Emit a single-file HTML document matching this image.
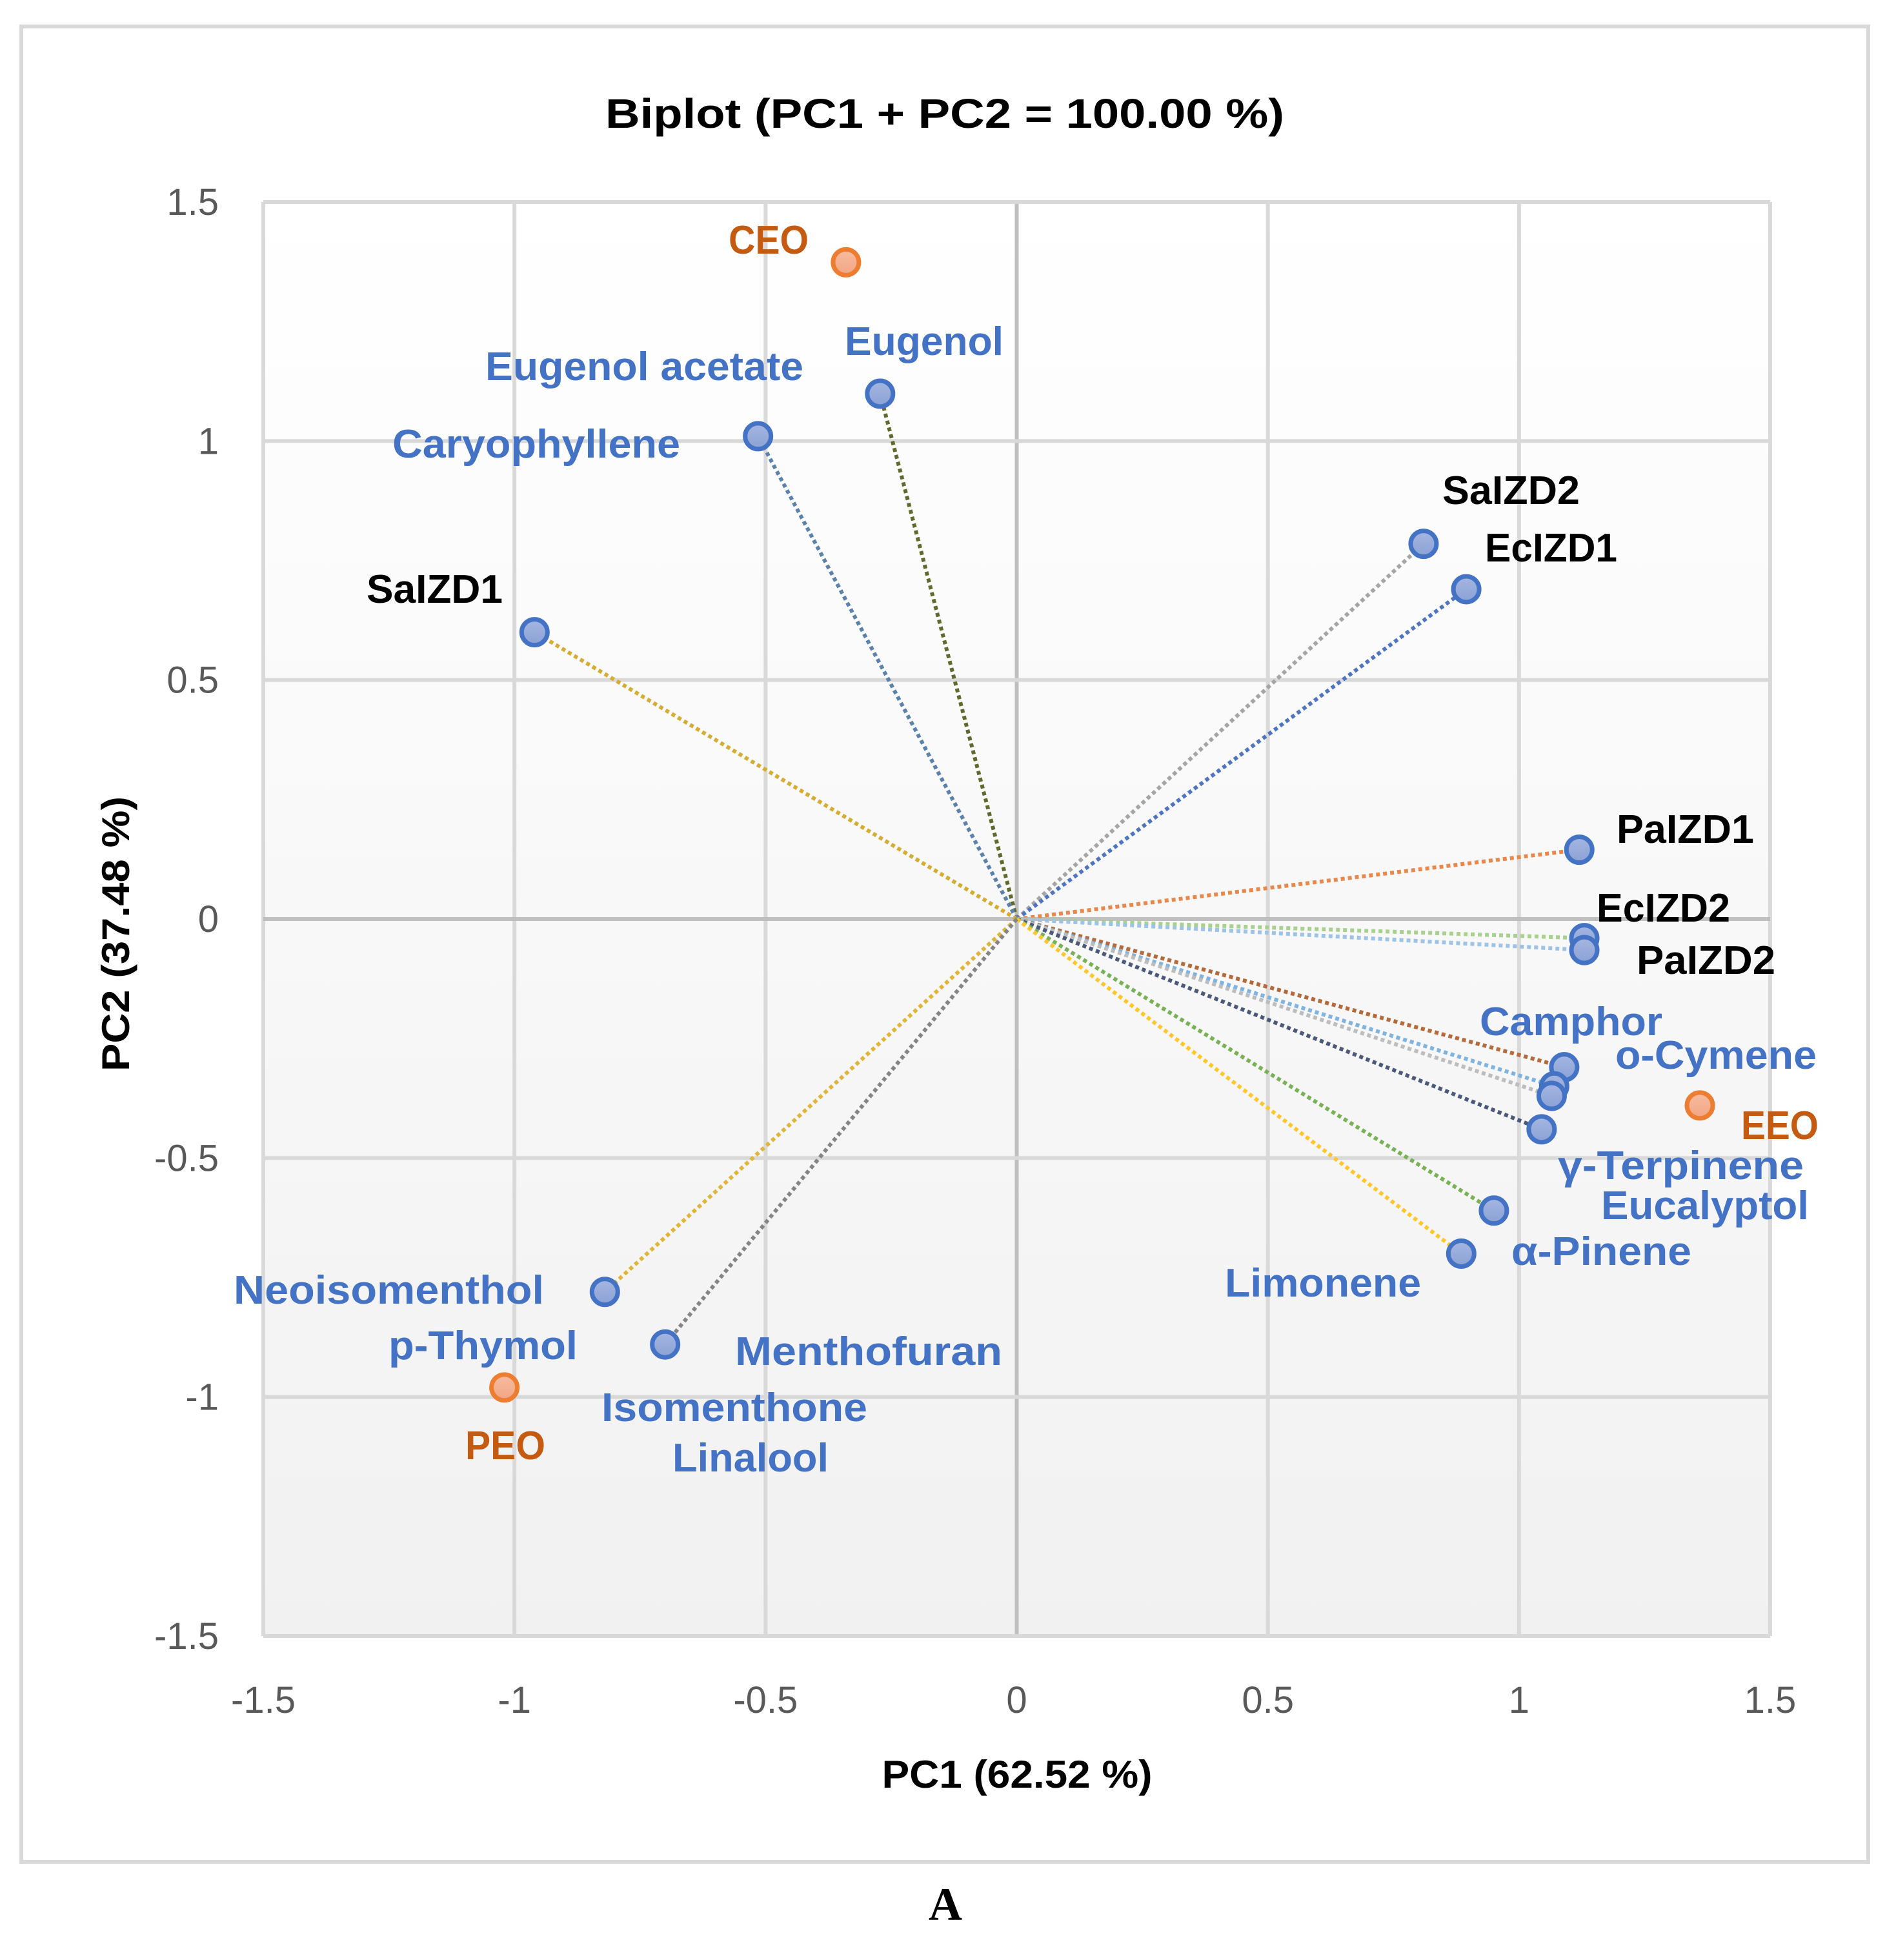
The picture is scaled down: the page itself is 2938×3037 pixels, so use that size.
<!DOCTYPE html>
<html><head><meta charset="utf-8"><style>
html,body{margin:0;padding:0;background:#fff;}
svg{display:block;font-family:"Liberation Sans",sans-serif;}
</style></head><body>
<svg id="chart" width="2938" height="3037" viewBox="0 0 2938 3037" xmlns="http://www.w3.org/2000/svg">
<defs>
<linearGradient id="bg" x1="0" y1="0" x2="0" y2="1"><stop offset="0" stop-color="#ffffff"/><stop offset="1" stop-color="#f1f1f1"/></linearGradient>
<linearGradient id="mb" x1="0" y1="0" x2="0" y2="1"><stop offset="0" stop-color="#a6b6e0"/><stop offset="1" stop-color="#8aa2d6"/></linearGradient>
<linearGradient id="mo" x1="0" y1="0" x2="0" y2="1"><stop offset="0" stop-color="#f7bca0"/><stop offset="1" stop-color="#f2a583"/></linearGradient>
</defs>
<rect x="33" y="41" width="2862" height="2844" fill="#fff" stroke="#d9d9d9" stroke-width="6"/>
<rect x="408" y="313" width="2335" height="2222" fill="url(#bg)"/>
<g id="grid"></g>
<g id="vectors"></g>
<g id="markers"></g>
<text x="1464" y="198" font-size="64" font-weight="bold" text-anchor="middle" fill="#000" textLength="1052" lengthAdjust="spacingAndGlyphs">Biplot (PC1 + PC2 = 100.00 %)</text>
<text x="1576" y="2770" font-size="60" font-weight="bold" text-anchor="middle" fill="#000" textLength="419" lengthAdjust="spacingAndGlyphs">PC1 (62.52 %)</text>
<text transform="translate(200,1447) rotate(-90)" font-size="60" font-weight="bold" text-anchor="middle" fill="#000" textLength="426" lengthAdjust="spacingAndGlyphs">PC2 (37.48 %)</text>
<g id="labels" font-size="62" font-weight="bold">
<text x="1129" y="393" fill="#c55a11" textLength="124" lengthAdjust="spacingAndGlyphs">CEO</text>
<text x="752" y="589" fill="#4472c4" textLength="493" lengthAdjust="spacingAndGlyphs">Eugenol acetate</text>
<text x="1309" y="550" fill="#4472c4" textLength="246" lengthAdjust="spacingAndGlyphs">Eugenol</text>
<text x="608" y="709" fill="#4472c4" textLength="446" lengthAdjust="spacingAndGlyphs">Caryophyllene</text>
<text x="568" y="934" fill="#000" textLength="211" lengthAdjust="spacingAndGlyphs">SaIZD1</text>
<text x="2235" y="781" fill="#000" textLength="213" lengthAdjust="spacingAndGlyphs">SaIZD2</text>
<text x="2301" y="870" fill="#000" textLength="205" lengthAdjust="spacingAndGlyphs">EcIZD1</text>
<text x="2505" y="1306" fill="#000" textLength="213" lengthAdjust="spacingAndGlyphs">PaIZD1</text>
<text x="2474" y="1428" fill="#000" textLength="207" lengthAdjust="spacingAndGlyphs">EcIZD2</text>
<text x="2536" y="1509" fill="#000" textLength="215" lengthAdjust="spacingAndGlyphs">PaIZD2</text>
<text x="2293" y="1604" fill="#4472c4" textLength="283" lengthAdjust="spacingAndGlyphs">Camphor</text>
<text x="2503" y="1656" fill="#4472c4" textLength="312" lengthAdjust="spacingAndGlyphs">o-Cymene</text>
<text x="2698" y="1765" fill="#c55a11" textLength="120" lengthAdjust="spacingAndGlyphs">EEO</text>
<text x="2414" y="1827" fill="#4472c4" textLength="381" lengthAdjust="spacingAndGlyphs">γ-Terpinene</text>
<text x="2481" y="1889" fill="#4472c4" textLength="322" lengthAdjust="spacingAndGlyphs">Eucalyptol</text>
<text x="2342" y="1960" fill="#4472c4" textLength="279" lengthAdjust="spacingAndGlyphs">α-Pinene</text>
<text x="1898" y="2009" fill="#4472c4" textLength="304" lengthAdjust="spacingAndGlyphs">Limonene</text>
<text x="362" y="2020" fill="#4472c4" textLength="481" lengthAdjust="spacingAndGlyphs">Neoisomenthol</text>
<text x="602" y="2106" fill="#4472c4" textLength="293" lengthAdjust="spacingAndGlyphs">p-Thymol</text>
<text x="1139" y="2115" fill="#4472c4" textLength="414" lengthAdjust="spacingAndGlyphs">Menthofuran</text>
<text x="932" y="2202" fill="#4472c4" textLength="412" lengthAdjust="spacingAndGlyphs">Isomenthone</text>
<text x="1042" y="2280" fill="#4472c4" textLength="242" lengthAdjust="spacingAndGlyphs">Linalool</text>
<text x="721" y="2261" fill="#c55a11" textLength="124" lengthAdjust="spacingAndGlyphs">PEO</text>
</g>
<text x="1465" y="2975" font-family="'Liberation Serif',serif" font-size="72" font-weight="bold" text-anchor="middle" fill="#000">A</text>
</svg>
<script>
const xTicks = [-1.5, -1, -0.5, 0, 0.5, 1, 1.5];
const yTicks = [-1.5, -1, -0.5, 0, 0.5, 1, 1.5];
const xTickLabels = ["-1.5", "-1", "-0.5", "0", "0.5", "1", "1.5"];
const yTickLabels = ["-1.5", "-1", "-0.5", "0", "0.5", "1", "1.5"];
const varNames = ["Eugenol","Caryophyllene","SaIZD1","SaIZD2","EcIZD1","PaIZD1","EcIZD2","PaIZD2","Camphor","o-Cymene","Eucalyptol","gamma-Terpinene","alpha-Pinene","Limonene","Neoisomenthol","Menthofuran"];
const varPC1 = [-0.272, -0.515, -0.96, 0.81, 0.895, 1.12, 1.13, 1.13, 1.09, 1.07, 1.065, 1.045, 0.95, 0.885, -0.82, -0.70];
const varPC2 = [1.099, 1.01, 0.60, 0.785, 0.69, 0.145, -0.04, -0.065, -0.31, -0.35, -0.37, -0.44, -0.61, -0.70, -0.78, -0.89];
const varColors = ["#5f6b2c","#5b82ab","#d6ad33","#a5a5a5","#4f74c0","#e8884a","#a9d18e","#9dc3e6","#b56a3a","#7fb3e0","#bdbdbd","#4a5a78","#79b255","#ffc72c","#e0b63a","#858585"];
const obsNames = ["CEO","EEO","PEO"];
const obsPC1 = [-0.34, 1.36, -1.02];
const obsPC2 = [1.374, -0.39, -0.98];

const NS = "http://www.w3.org/2000/svg";
const L = 408, R = 2743, T = 313, B = 2535;
function sx(v){ return L + (v + 1.5) / 3 * (R - L); }
function sy(v){ return B - (v + 1.5) / 3 * (B - T); }
function mk(tag, attrs, parent){
  const e = document.createElementNS(NS, tag);
  for (const k in attrs) e.setAttribute(k, attrs[k]);
  parent.appendChild(e);
  return e;
}
const grid = document.getElementById("grid");
xTicks.forEach((t, i) => {
  const g = mk("line", {x1: sx(t), x2: sx(t), y1: T, y2: B, stroke: t === 0 ? "#bfbfbf" : "#d9d9d9", "stroke-width": 6}, grid);
  
  
  const tx = mk("text", {x: sx(t), y: 2654, "font-size": 58, fill: "#595959", "text-anchor": "middle"}, grid);
  tx.textContent = xTickLabels[i];
  
  
});
yTicks.forEach((t, i) => {
  const g = mk("line", {x1: L, x2: R, y1: sy(t), y2: sy(t), stroke: t === 0 ? "#bfbfbf" : "#d9d9d9", "stroke-width": 6}, grid);
  
  
  const ty = mk("text", {x: 339, y: sy(t) + 20, "font-size": 58, fill: "#595959", "text-anchor": "end"}, grid);
  ty.textContent = yTickLabels[i];
  
  
});
const vec = document.getElementById("vectors");
const mg = document.getElementById("markers");
varNames.forEach((n, i) => {
  const ln = mk("line", {x1: sx(0), y1: sy(0), x2: sx(varPC1[i]), y2: sy(varPC2[i]), stroke: varColors[i], "stroke-width": 6, "stroke-dasharray": "6 5"}, vec);
  
  
});
varNames.forEach((n, i) => {
  const c = mk("circle", {cx: sx(varPC1[i]), cy: sy(varPC2[i]), r: 20, fill: "url(#mb)", stroke: "#4472c4", "stroke-width": 7}, mg);
  
  
});
obsNames.forEach((n, i) => {
  const c = mk("circle", {cx: sx(obsPC1[i]), cy: sy(obsPC2[i]), r: 20, fill: "url(#mo)", stroke: "#ed7d31", "stroke-width": 7}, mg);
  
  
});
</script>
</body></html>
